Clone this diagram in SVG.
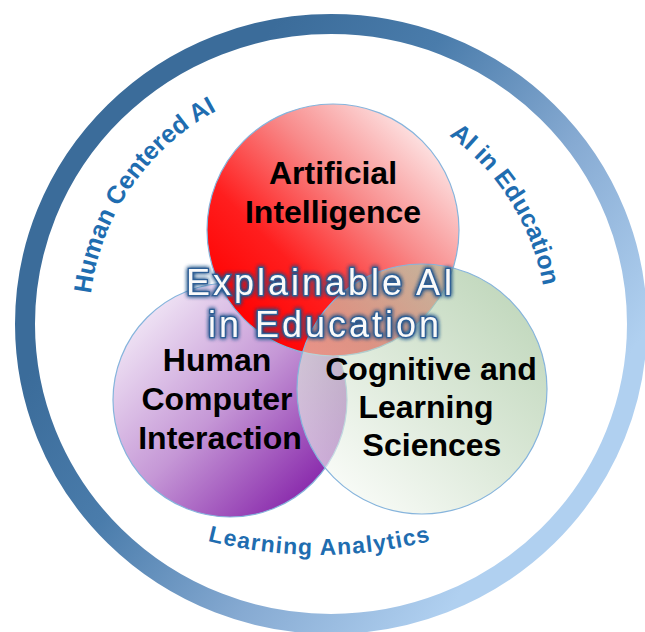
<svg xmlns="http://www.w3.org/2000/svg" xmlns:xlink="http://www.w3.org/1999/xlink" width="645" height="632" viewBox="0 0 645 632">
<style>
.lbl{font-family:"Liberation Sans",Arial,sans-serif;font-weight:bold;font-size:32px;fill:#000;text-anchor:middle}
.arc{font-family:"Liberation Sans",Arial,sans-serif;font-weight:bold;font-size:25px;fill:#1f6db0;text-anchor:middle}
.ctr{font-family:"Liberation Sans",Arial,sans-serif;font-size:36px;letter-spacing:3px;fill:#fafafa;stroke:#2f5f96;stroke-width:2.5;paint-order:stroke;text-anchor:middle}
.edge{stroke:#86b4dc;stroke-width:1.2}
</style>
<defs>
<linearGradient id="gRing" x1="0.2" y1="0.3" x2="0.85" y2="0.75">
<stop offset="0" stop-color="#3b6c9a"/>
<stop offset="0.3" stop-color="#4a7cab"/>
<stop offset="0.65" stop-color="#86aad2"/>
<stop offset="1" stop-color="#b0d0f0"/>
</linearGradient>
<linearGradient id="gRed" x1="0.1" y1="0.85" x2="0.85" y2="0.1">
<stop offset="0" stop-color="#ff0000"/>
<stop offset="0.3" stop-color="#ff1e1e"/>
<stop offset="0.65" stop-color="#f88a8a"/>
<stop offset="1" stop-color="#fde6e6"/>
</linearGradient>
<linearGradient id="gPurple" x1="0.1" y1="0.1" x2="0.9" y2="0.9">
<stop offset="0" stop-color="#f3eaf7"/>
<stop offset="0.5" stop-color="#c597d6"/>
<stop offset="1" stop-color="#8420a8"/>
</linearGradient>
<linearGradient id="gGreen" x1="0.85" y1="0.15" x2="0.15" y2="0.9">
<stop offset="0" stop-color="#9fc298"/>
<stop offset="0.5" stop-color="#c8dcc3"/>
<stop offset="1" stop-color="#f5f9f3"/>
</linearGradient>
<filter id="glow" x="-10%" y="-30%" width="120%" height="160%">
<feGaussianBlur in="SourceAlpha" stdDeviation="2.2" result="b"/>
<feFlood flood-color="#1c4c84" flood-opacity="0.9"/>
<feComposite in2="b" operator="in" result="g"/>
<feMerge><feMergeNode in="g"/><feMergeNode in="g"/><feMergeNode in="SourceGraphic"/></feMerge>
</filter>
<path id="pHCAI" d="M121.4,445 A242,242 0 0 1 452,114.4"/>
<path id="pAIED" d="M222.2,102.6 A242,242 0 0 1 490.4,485.6"/>
<path id="pLA" d="M129,512.8 A450,450 0 0 0 509,512.8"/>
</defs>
<rect width="645" height="632" fill="#fff"/>
<g id="ring">
<ellipse cx="331" cy="324" rx="306" ry="300" fill="none" stroke="url(#gRing)" stroke-width="20"/>
</g>
<g id="outer-labels">
<text class="arc"><textPath href="#pHCAI" xlink:href="#pHCAI" startOffset="43%">Human Centered AI</textPath></text>
<text class="arc"><textPath href="#pAIED" xlink:href="#pAIED" startOffset="52%">AI in Education</textPath></text>
<text class="arc" style="font-size:23px" textLength="225"><textPath href="#pLA" xlink:href="#pLA" startOffset="50%">Learning Analytics</textPath></text>
</g>
<g id="hci">
<circle cx="230" cy="400" r="117" fill="url(#gPurple)" class="edge"/>
</g>
<g id="ai">
<circle cx="333" cy="230" r="126" fill="url(#gRed)" class="edge"/>
</g>
<g id="cls">
<circle cx="422" cy="389" r="125" fill="url(#gGreen)" fill-opacity="0.62" class="edge"/>
</g>
<g id="labels">
<text class="lbl" x="333" y="184">Artificial</text>
<text class="lbl" x="333" y="223">Intelligence</text>
<text class="lbl" x="217" y="371">Human</text>
<text class="lbl" x="217" y="410">Computer</text>
<text class="lbl" x="220" y="449">Interaction</text>
<text class="lbl" x="431" y="380">Cognitive and</text>
<text class="lbl" x="426" y="418">Learning</text>
<text class="lbl" x="432" y="456">Sciences</text>
</g>
<g id="center-label" filter="url(#glow)">
<text class="ctr" x="321" y="295">Explainable AI</text>
<text class="ctr" x="325" y="337">in Education</text>
</g>
</svg>
